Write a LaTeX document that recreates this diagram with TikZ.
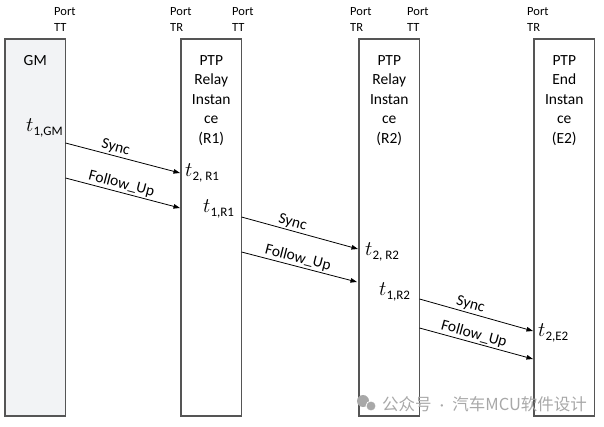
\documentclass[tikz,border=0pt]{standalone}
\usepackage{fontspec}
\setmainfont{Carlito}
\newfontfamily\cjk{Noto Sans CJK SC}
\usetikzlibrary{arrows.meta}
\definecolor{boxgray}{HTML}{555555}
\definecolor{gmfill}{HTML}{F2F3F5}
\definecolor{wmgray}{HTML}{A8A8A8}
\newcommand\tstamp[1]{{\fontsize{21}{21}\selectfont$t$}{\fontsize{13}{13}\selectfont\raisebox{-4pt}{#1}}}
\begin{document}
\begin{tikzpicture}[x=1pt,y=-1pt,
  box/.style={draw=boxgray, line width=1.1pt, minimum width=60.5pt, minimum height=377pt, inner sep=0pt, outer sep=0pt, anchor=north west},
  boxtext/.style={anchor=north, align=center, inner sep=0pt, font=\fontsize{15.5}{19.5}\selectfont},
  port/.style={anchor=north west, align=left, inner sep=0pt, font=\fontsize{12.5}{16}\selectfont},
  stamp/.style={anchor=base west, inner sep=0pt},
  msg/.style={draw=black, line width=0.8pt, -{Triangle[length=6.5pt,width=4.5pt]}},
  lbl/.style={sloped, above, inner sep=1.5pt, font=\fontsize{15.5}{16}\selectfont}]
\useasboundingbox (0,0) rectangle (604,427);
% boxes
\node[box, fill=gmfill] (gm) at (5,39) {};
\node[box] (r1) at (181,39) {};
\node[box] (r2) at (359,39) {};
\node[box] (e2) at (534,39) {};
% box texts
\node[boxtext] (gmt) at ([yshift=-16pt]gm.north) {GM};
\node[boxtext] (r1t) at ([yshift=-16pt]r1.north) {PTP\\Relay\\Instan\\ce\\(R1)};
\node[boxtext] (r2t) at ([yshift=-16pt]r2.north) {PTP\\Relay\\Instan\\ce\\(R2)};
\node[boxtext] (e2t) at ([yshift=-16pt]e2.north) {PTP\\End\\Instan\\ce\\(E2)};
% port labels
\node[port] (pgm) at (54,7.5) {Port\\TT};
\node[port] (pr1a) at (170,7.5) {Port\\TR};
\node[port] (pr1b) at (232,7.5) {Port\\TT};
\node[port] (pr2a) at (350,7.5) {Port\\TR};
\node[port] (pr2b) at (407,7.5) {Port\\TT};
\node[port] (pe2) at (527,7.5) {Port\\TR};
% timestamps
\node[stamp] (t1gm) at (26,132) {\tstamp{1,GM}};
\node[stamp] (t2r1) at (185,177) {\tstamp{2, R1}};
\node[stamp] (t1r1) at (203,213) {\tstamp{1,R1}};
\node[stamp] (t2r2) at (365,255) {\tstamp{2, R2}};
\node[stamp] (t1r2) at (379,295) {\tstamp{1,R2}};
\node[stamp] (t2e2) at (538,336) {\tstamp{2,E2}};
% messages
\draw[msg] (gm.east |- 0,143) -- node[lbl, pos=0.42] {Sync} ([xshift=-1pt]r1.west |- 0,173);
\draw[msg] (gm.east |- 0,178) -- node[lbl, pos=0.47] {Follow\_Up} ([xshift=-1pt]r1.west |- 0,208);
\draw[msg] (r1.east |- 0,217) -- node[lbl, pos=0.42] {Sync} ([xshift=-1pt]r2.west |- 0,249);
\draw[msg] (r1.east |- 0,252) -- node[lbl, pos=0.47] {Follow\_Up} ([xshift=-2pt]r2.west |- 0,282);
\draw[msg] (r2.east |- 0,299) -- node[lbl, pos=0.43] {Sync} ([xshift=-1pt]e2.west |- 0,331);
\draw[msg] (r2.east |- 0,328) -- node[lbl, pos=0.46] {Follow\_Up} ([xshift=-1pt]e2.west |- 0,359);
% watermark
\fill[wmgray] (363,401) circle (6pt);
\fill[wmgray, draw=white, line width=0.8pt] (371,406) circle (5pt);
\node[anchor=west, inner sep=0pt, text=wmgray, font=\cjk\fontsize{16.5}{16.5}\selectfont] (wm) at (382,404) {公众号{\rmfamily\enspace\textperiodcentered\enspace}汽车MCU软件设计};
\end{tikzpicture}
\end{document}
